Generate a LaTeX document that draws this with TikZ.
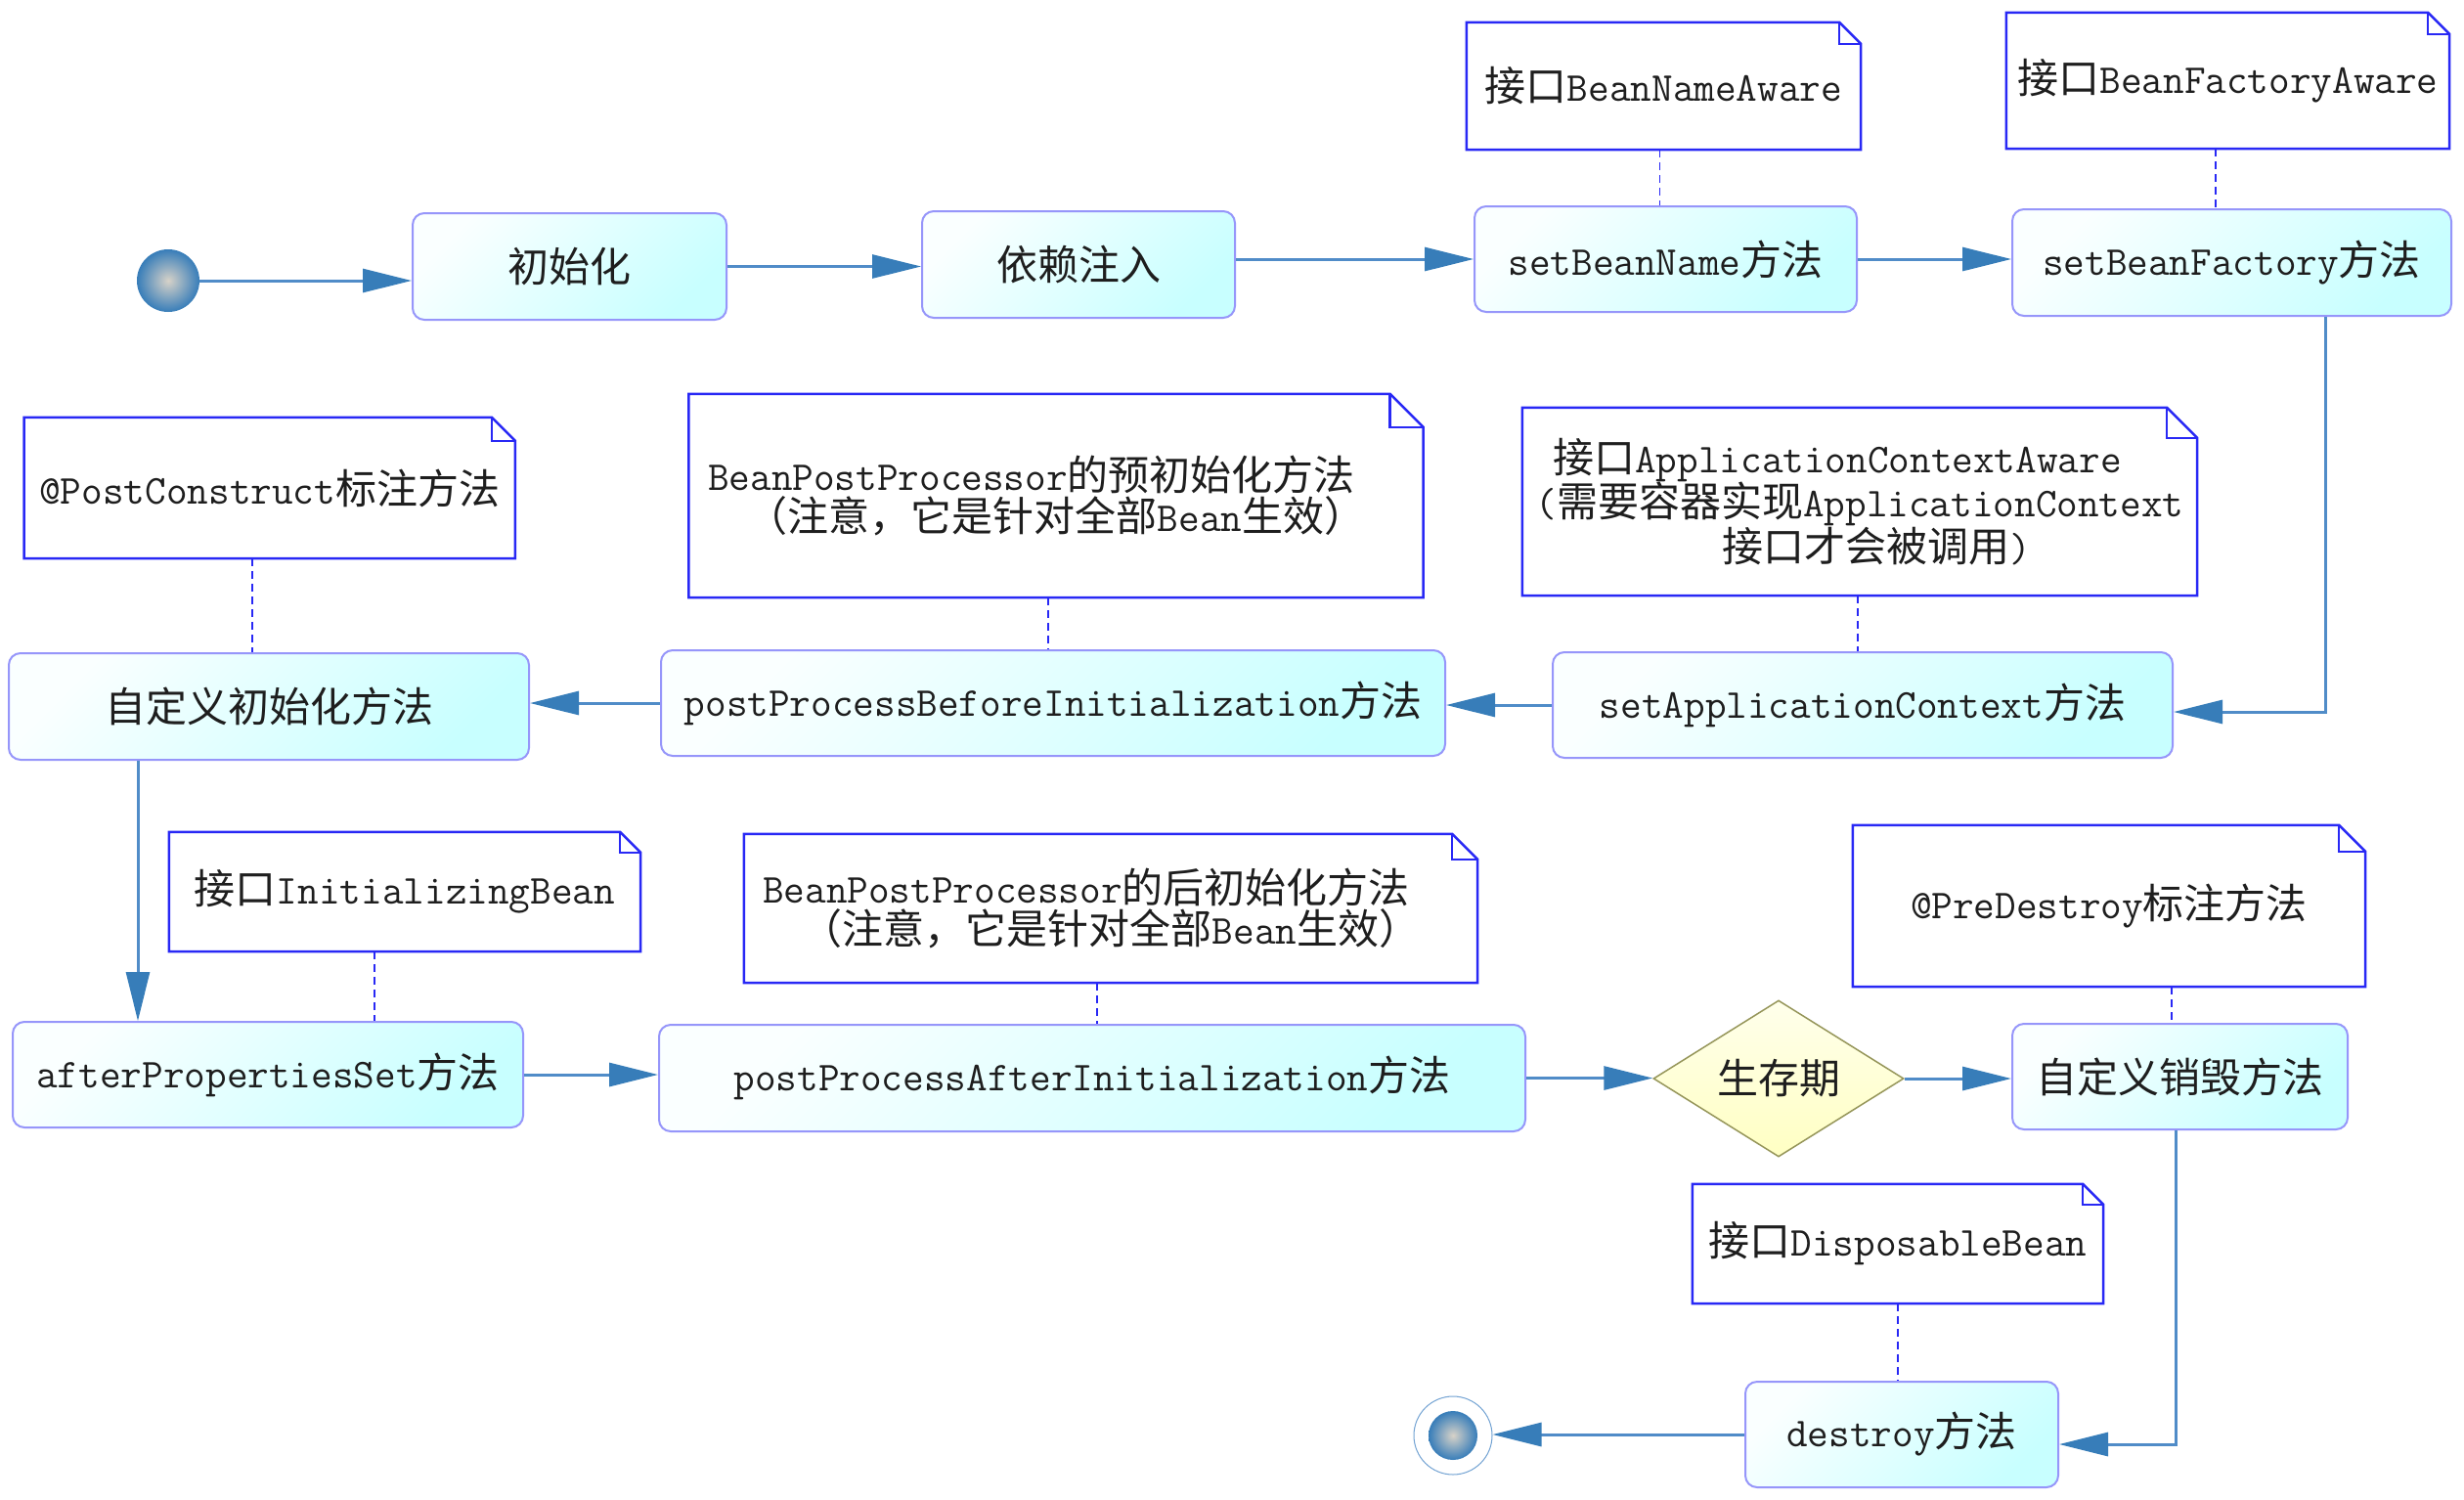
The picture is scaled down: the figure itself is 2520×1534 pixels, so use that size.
\documentclass[tikz,border=0pt]{standalone}
\usepackage{fontspec}
\newfontfamily\cjkfont{Noto Sans CJK SC}
\usetikzlibrary{arrows.meta,shapes.geometric,calc}
\definecolor{boxline}{RGB}{150,150,250}
\definecolor{boxtop}{RGB}{250,255,255}
\definecolor{boxbot}{RGB}{200,255,255}
\definecolor{noteline}{RGB}{40,40,245}
\definecolor{flowline}{RGB}{80,140,200}
\definecolor{tipcol}{RGB}{55,125,185}
\definecolor{txtcol}{RGB}{30,30,30}
\definecolor{dtop}{RGB}{255,255,235}
\definecolor{dbot}{RGB}{255,255,195}
\definecolor{dline}{RGB}{150,150,90}
\definecolor{ballin}{RGB}{215,210,200}
\newcommand\zh[1]{{\cjkfont #1}}
\newcommand\notefold[2]{%
 \draw[noteedge] (#1.south west) -- (#1.north west) -- ([xshift=-#2pt]#1.north east) -- ([yshift=-#2pt]#1.north east) -- (#1.south east) -- cycle;
 \draw[noteedge] ([xshift=-#2pt]#1.north east) -- ([xshift=-#2pt,yshift=-#2pt]#1.north east) -- ([yshift=-#2pt]#1.north east);
}
\begin{document}
\begin{tikzpicture}[x=1pt,y=-1pt,
  every node/.style={font=\fontsize{42}{42}\selectfont\ttfamily, text=txtcol, inner sep=0pt},
  stepbox/.style={draw=boxline, line width=2pt, rounded corners=12pt, top color=boxtop, bottom color=boxbot, shading angle=45},
  notebox/.style={fill=white, align=center},
  noteedge/.style={draw=noteline, line width=2.5pt, line join=miter},
  dashline/.style={draw=noteline, line width=1.8pt, dash pattern=on 8pt off 5pt},
  flow/.style={draw=flowline, line width=3pt, -{Triangle[length=50pt,width=24pt,color=tipcol]}},
  decide/.style={diamond, shape aspect=1.6, draw=dline, line width=1.5pt, top color=dtop, bottom color=dbot, minimum width=256pt, minimum height=160pt},
  ball/.style={circle, shading=radial, inner color=ballin, outer color=tipcol}
]
\fill[white] (0,0) rectangle (2520,1534);
\useasboundingbox (0,0) rectangle (2520,1534);

% notes
\node[notebox, minimum width=403pt, minimum height=130pt] (n1) at (1701.5,88) {\zh{接口}BeanNameAware};
\node[notebox, minimum width=453pt, minimum height=139pt] (n2) at (2278.5,82.5) {\zh{接口}BeanFactoryAware};
\node[notebox, minimum width=502pt, minimum height=144pt] (n3) at (275.75,499) {@PostConstruct\zh{标注方法}};
\node[notebox, minimum width=751pt, minimum height=208pt] (n4) at (1080,507) {BeanPostProcessor\zh{的预初始化方法}\rule{50pt}{0pt}\\\zh{（注意，它是针对全部}Bean\zh{生效）}};
\node[notebox, minimum width=690pt, minimum height=192pt] (n5) at (1902,513) {\zh{接口}ApplicationContextAware\rule{46pt}{0pt}\\(\zh{需要容器实现}ApplicationContext\\\rule{35pt}{0pt}\zh{接口才会被调用})};
\node[notebox, minimum width=482pt, minimum height=122pt] (n6) at (414,912) {\zh{接口}InitializingBean};
\node[notebox, minimum width=750pt, minimum height=152pt] (n7) at (1136,929) {BeanPostProcessor\zh{的后初始化方法}\rule{50pt}{0pt}\\\zh{（注意，它是针对全部}Bean\zh{生效）}};
\node[notebox, minimum width=524pt, minimum height=165pt] (n8) at (2157,926.5) {@PreDestroy\zh{标注方法}};
\node[notebox, minimum width=420pt, minimum height=122pt] (n9) at (1941,1272) {\zh{接口}DisposableBean};
\notefold{n1}{22}
\notefold{n2}{22}
\notefold{n3}{24}
\notefold{n4}{34}
\notefold{n5}{31}
\notefold{n6}{21}
\notefold{n7}{26}
\notefold{n8}{27}
\notefold{n9}{21}

% steps
\node[ball, minimum size=64pt] (start) at (172,287) {};
\node[stepbox, minimum width=321pt, minimum height=109pt] (init) at (582.5,272.5) {\zh{初始化}};
\node[stepbox, minimum width=320pt, minimum height=109pt] (di) at (1103,270.5) {\zh{依赖注入}};
\node[stepbox, minimum width=391pt, minimum height=108pt] (sbn) at (1703.5,265) {setBeanName\zh{方法}};
\node[stepbox, minimum width=449pt, minimum height=109pt] (sbf) at (2282.5,268.5) {setBeanFactory\zh{方法}};
\node[stepbox, minimum width=634pt, minimum height=108pt] (sac) at (1905,721) {setApplicationContext\zh{方法}};
\node[stepbox, minimum width=802pt, minimum height=108pt] (ppb) at (1077,719) {postProcessBeforeInitialization\zh{方法}};
\node[stepbox, minimum width=532pt, minimum height=109pt] (cinit) at (275,722.5) {\zh{自定义初始化方法}};
\node[stepbox, minimum width=522pt, minimum height=108pt] (aps) at (274,1099) {afterPropertiesSet\zh{方法}};
\node[stepbox, minimum width=886pt, minimum height=109pt] (ppa) at (1117,1102.5) {postProcessAfterInitialization\zh{方法}};
\node[decide] (life) at (1819,1103) {\zh{生存期}};
\node[stepbox, minimum width=343pt, minimum height=108pt] (cdes) at (2229.5,1101) {\zh{自定义销毁方法}};
\node[stepbox, minimum width=320pt, minimum height=108pt] (des) at (1945,1467) {destroy\zh{方法}};
\node[circle, minimum size=80pt, draw=flowline!80, line width=1pt] (endc) at (1486,1468) {};
\node[ball, minimum size=50pt] (endin) at (endc.center) {};

% dashed anchors
\draw[dashline] ([xshift=-4pt]n1.south) -- ([xshift=-4pt]n1.south |- sbn.north);
\draw[dashline] ([xshift=-12.5pt]n2.south) -- ([xshift=-12.5pt]n2.south |- sbf.north);
\draw[dashline] ([xshift=-18pt]n3.south) -- ([xshift=-18pt]n3.south |- cinit.north);
\draw[dashline] ([xshift=-8pt]n4.south) -- ([xshift=-8pt]n4.south |- ppb.north);
\draw[dashline] ([xshift=-2pt]n5.south) -- ([xshift=-2pt]n5.south |- sac.north);
\draw[dashline] ([xshift=-31pt]n6.south) -- ([xshift=-31pt]n6.south |- aps.north);
\draw[dashline] ([xshift=-14pt]n7.south) -- ([xshift=-14pt]n7.south |- ppa.north);
\draw[dashline] ([xshift=64pt]n8.south) -- ([xshift=64pt]n8.south |- cdes.north);
\draw[dashline] (n9.south) -- (n9.south |- des.north);

% flow
\draw[flow] (start.east) -- (start.east -| init.west);
\draw[flow] (init.east) -- (init.east -| di.west);
\draw[flow] (di.east |- sbn.west) -- (sbn.west);
\draw[flow] (sbn.east) -- (sbn.east -| sbf.west);
\draw[flow] ([xshift=95.5pt]sbf.south) |- ([yshift=-7pt]sac.east);
\draw[flow] (sac.west) -- (sac.west -| ppb.east);
\draw[flow] (ppb.west) -- (ppb.west -| cinit.east);
\draw[flow] ([xshift=-134pt]cinit.south) -- ([xshift=-134pt]cinit.south |- aps.north);
\draw[flow] (aps.east) -- (aps.east -| ppa.west);
\draw[flow] (ppa.east) -- (ppa.east -| life.west);
\draw[flow] (life.east) -- (life.east -| cdes.west);
\draw[flow] ([xshift=-4.5pt]cdes.south) |- ([yshift=-10pt]des.east);
\draw[flow] (des.west) -- (des.west -| endc.east);
\end{tikzpicture}
\end{document}
